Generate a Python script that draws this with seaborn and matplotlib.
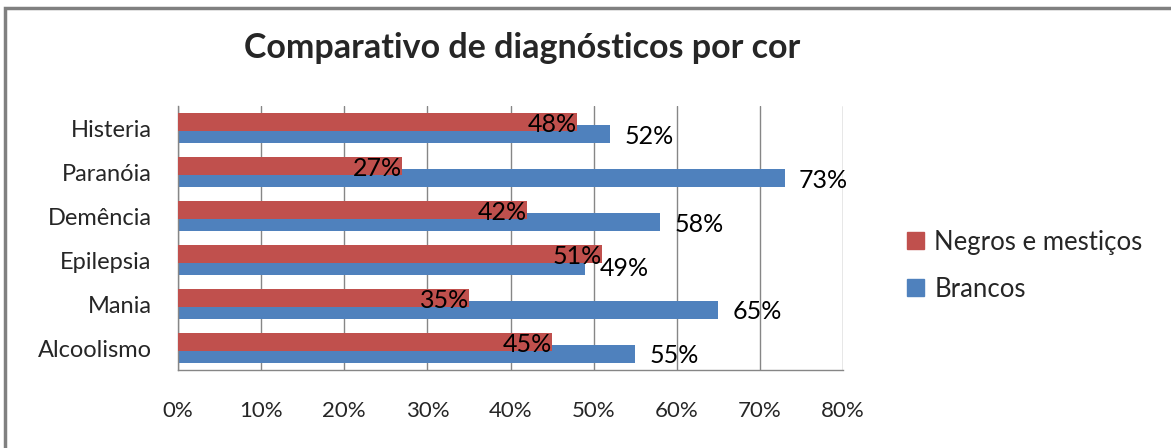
import numpy as np
import pandas as pd
import matplotlib
matplotlib.use("Agg")
import matplotlib.pyplot as plt
from matplotlib.patches import Rectangle
import seaborn as sns

# --- data ---
categories = ["Histeria", "Paranóia", "Demência", "Epilepsia", "Mania", "Alcoolismo"]
negros = [48, 27, 42, 51, 35, 45]
brancos = [52, 73, 58, 49, 65, 55]
series_names = ["Negros e mestiços", "Brancos"]
xticks = [0, 10, 20, 30, 40, 50, 60, 70, 80]

RED = "#C0504D"
BLUE = "#4F81BD"
GRID = "#868686"

sns.set_theme(style="white")
plt.rcParams["font.family"] = ["Lato", "DejaVu Sans"]

# Excel-style overlapping bars: red sits slightly above blue
offset = 0.14
bar_h = 0.41
pos = np.arange(len(categories))
df_red = pd.DataFrame({"pos": pos - offset, "value": negros})
df_blue = pd.DataFrame({"pos": pos + offset, "value": brancos})

fig = plt.figure(figsize=(11.71, 4.48), dpi=100)
ax = fig.add_axes([0.152, 0.174, 0.568, 0.589])

sns.barplot(data=df_blue, x="value", y="pos", orient="h", native_scale=True,
            color=BLUE, saturation=1, width=bar_h, linewidth=0, ax=ax, zorder=2)
sns.barplot(data=df_red, x="value", y="pos", orient="h", native_scale=True,
            color=RED, saturation=1, width=bar_h, linewidth=0, ax=ax, zorder=3)

# value labels
for p, v in zip(df_red["pos"], df_red["value"]):
    ax.text(v, p + 0.06, f"{v}%", ha="right", va="center", fontsize=18, color="black", zorder=4)
for p, v in zip(df_blue["pos"], df_blue["value"]):
    ax.annotate(f"{v}%", (v, p + 0.04), xytext=(10, 0), textcoords="offset points",
                ha="left", va="center", fontsize=18, color="black", zorder=4)

ax.set_xlim(0, 80)
ax.set_ylim(len(categories) - 0.5, -0.5)
ax.set_xticks(xticks)
ax.set_xticklabels([f"{t}%" for t in xticks])
ax.set_yticks(pos)
ax.set_yticklabels(categories)
ax.set_xlabel("")
ax.set_ylabel("")
ax.tick_params(axis="x", length=0, pad=22, labelsize=16)
ax.tick_params(axis="y", length=0, pad=19, labelsize=17)

ax.xaxis.grid(True, color=GRID, linewidth=1)
ax.yaxis.grid(False)
ax.set_axisbelow(True)
for s in ["top", "right"]:
    ax.spines[s].set_visible(False)
for s in ["left", "bottom"]:
    ax.spines[s].set_color(GRID)
    ax.spines[s].set_linewidth(1)

fig.text(0.446, 0.893, "Comparativo de diagnósticos por cor", ha="center", va="center",
         fontsize=24.5, fontweight="bold")

handles = [Rectangle((0, 0), 1, 1, color=RED), Rectangle((0, 0), 1, 1, color=BLUE)]
fig.legend(handles, series_names, loc="center left", bbox_to_anchor=(0.766, 0.407),
           frameon=False, fontsize=18.5, handlelength=0.65, handleheight=0.65,
           handletextpad=0.4, labelspacing=0.85, borderaxespad=0)

# outer chart frame (only top and left visible in the reference)
fig.patches.append(Rectangle((5 / 1171, -0.1), 1.2, 0.1 + 1 - 8 / 448, transform=fig.transFigure,
                             fill=False, edgecolor="#808080", linewidth=2.5))

fig.savefig("out.png", dpi=100)
